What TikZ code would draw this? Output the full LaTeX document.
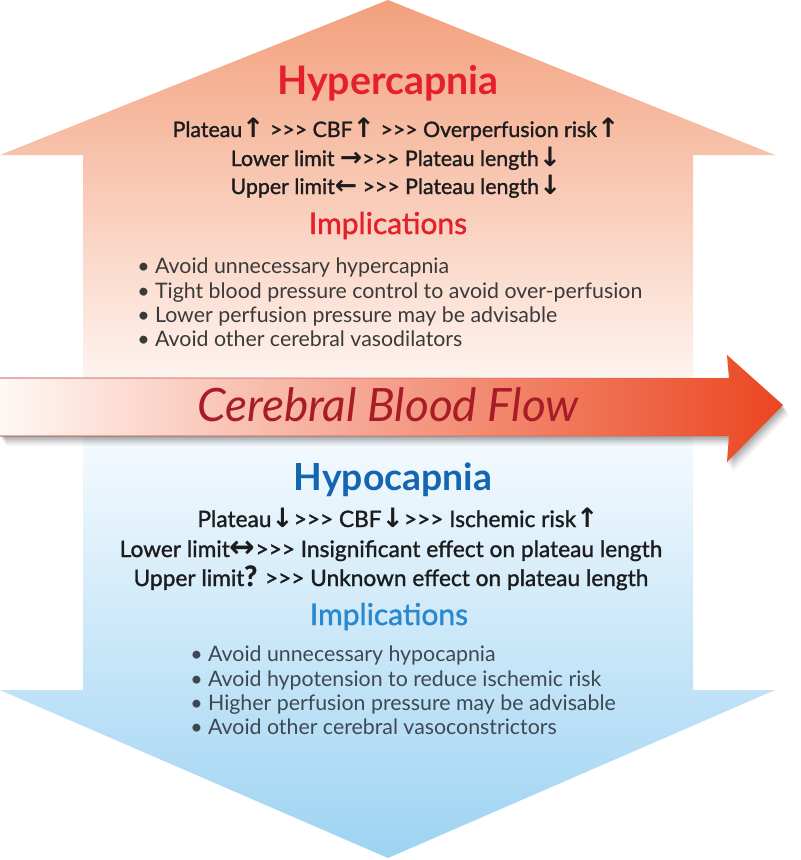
\documentclass[tikz,border=0pt]{standalone}
\usepackage{fontspec}
\setmainfont{Lato}
\newfontfamily\semifont[FakeBold=1.3]{Lato}
\newfontfamily\symfont{DejaVu Sans}
\usetikzlibrary{fadings}
\definecolor{upTop}{HTML}{F3A07C}
\definecolor{upMid}{HTML}{F9CCB6}
\definecolor{upBot}{HTML}{FFFAF8}
\definecolor{dnTop}{HTML}{FBFDFF}
\definecolor{dnMid}{HTML}{C6E4F7}
\definecolor{dnBot}{HTML}{9DD3F2}
\definecolor{arL}{HTML}{FFF8F4}
\definecolor{arM}{HTML}{F4A283}
\definecolor{arR}{HTML}{EB4620}
\definecolor{arEdge}{HTML}{A82A1C}
\definecolor{cbfRed}{HTML}{A81C28}
\definecolor{hypRed}{HTML}{E4202A}
\definecolor{hypBlue}{HTML}{1566B0}
\definecolor{implBlue}{HTML}{2A88CC}
\definecolor{bodyTxt}{HTML}{1C1C1C}
\definecolor{bulTxt}{HTML}{3A3A3A}
\definecolor{bulTxtB}{HTML}{3E4852}
\newcommand\arrU{{\symfont\bfseries\fontsize{20}{20}\selectfont ↑}}
\newcommand\arrD{{\symfont\bfseries\fontsize{20}{20}\selectfont ↓}}
\newcommand\arrR{{\symfont\bfseries\fontsize{20}{20}\selectfont →}}
\newcommand\arrL{{\symfont\bfseries\fontsize{20}{20}\selectfont ←}}
\newcommand\arrLR{{\symfont\bfseries\fontsize{23}{20}\selectfont ↔}}
\tikzset{
  heading/.style={anchor=base, inner sep=0pt, font=\fontsize{29.5}{34}\selectfont\bfseries},
  headingB/.style={anchor=base, inner sep=0pt, font=\fontsize{28}{34}\selectfont\bfseries},
  bodyline/.style={anchor=base, inner sep=0pt, text=bodyTxt, font=\semifont\fontsize{16}{19}\selectfont},
  bodylineB/.style={anchor=base, inner sep=0pt, text=bodyTxt, font=\semifont\fontsize{17}{19}\selectfont},
  impl/.style={anchor=base, inner sep=0pt, font=\semifont\fontsize{22.5}{26}\selectfont},
  bullet/.style={anchor=base west, inner sep=0pt, font=\fontsize{16}{19}\selectfont},
  cbf/.style={anchor=base, inner sep=0pt, text=cbfRed, font=\fontsize{34.5}{40}\selectfont\itshape},
}
\begin{document}
\begin{tikzpicture}[x=0.75pt,y=-0.75pt]
\useasboundingbox (0,0) rectangle (800,860);
% up arrow (hypercapnia)
\path[top color=upTop, middle color=upMid, bottom color=upBot]
  (83,408) -- (83,155) -- (0,155) -- (388,0) -- (775,155) -- (693,155) -- (693,408) -- cycle;
% down arrow (hypocapnia)
\path[top color=dnTop, middle color=dnMid, bottom color=dnBot]
  (83,407) -- (693,407) -- (693,690) -- (775,690) -- (388,858) -- (0,690) -- (83,690) -- cycle;
% shadow of the horizontal arrow
\foreach \d/\o in {2/0.10,4/0.09,6/0.08,8/0.06,10/0.04}{
  \fill[black, opacity=\o, shift={(\d*0.6,\d)}]
    (0,378) -- (729,378) -- (727,355) -- (783,405) -- (727,462) -- (729,436) -- (0,436) -- cycle;
}
% horizontal arrow
\path[left color=arL, middle color=arM, right color=arR]
  (0,378) -- (729,378) -- (727,355) -- (783,405) -- (727,462) -- (729,436) -- (0,436) -- cycle;
\draw[arEdge, line width=0.7pt, line join=miter, path fading=east]
  (0,378) -- (729,378) -- (727,355) -- (783,405) -- (727,462) -- (729,436) -- (0,436);
\node[cbf] (cbf) at (388,421) {Cerebral Blood Flow};
% hypercapnia
\node[heading, text=hypRed] (hyper) at (388,94) {Hypercapnia};
\node[bodyline] (h1) at (396,137) {Plateau\arrU{} >>> CBF\arrU{} >>> Overperfusion risk\arrU};
\node[bodyline] (h2) at (396,166) {Lower limit \arrR>>> Plateau length\arrD};
\node[bodyline] (h3) at (396,194) {Upper limit\arrL{} >>> Plateau length\arrD};
\node[impl, text=hypRed] (himpl) at (388,234) {Implications};
\node[bullet, text=bulTxt] (hb1) at (137,273) {• Avoid unnecessary hypercapnia};
\node[bullet, text=bulTxt] (hb2) at (137,298) {• Tight blood pressure control to avoid over-perfusion};
\node[bullet, text=bulTxt] (hb3) at (137,322) {• Lower perfusion pressure may be advisable};
\node[bullet, text=bulTxt] (hb4) at (137,346) {• Avoid other cerebral vasodilators};
% hypocapnia
\node[headingB, text=hypBlue] (hypo) at (393,490) {Hypocapnia};
\node[bodylineB] (l1) at (398,527) {Plateau\arrD{}>>> CBF\arrD{}>>> Ischemic risk\arrU};
\node[bodylineB] (l2) at (391,557) {Lower limit\arrLR>>> Insignificant effect on plateau length};
\node[bodylineB] (l3) at (391,586) {Upper limit{\bfseries\fontsize{21}{21}\selectfont ?} >>> Unknown effect on plateau length};
\node[impl, text=implBlue] (limpl) at (389,625) {Implications};
\node[bullet, text=bulTxtB] (lb1) at (190,661) {• Avoid unnecessary hypocapnia};
\node[bullet, text=bulTxtB] (lb2) at (190,686) {• Avoid hypotension to reduce ischemic risk};
\node[bullet, text=bulTxtB] (lb3) at (190,710) {• Higher perfusion pressure may be advisable};
\node[bullet, text=bulTxtB] (lb4) at (190,734) {• Avoid other cerebral vasoconstrictors};
\end{tikzpicture}
\end{document}
